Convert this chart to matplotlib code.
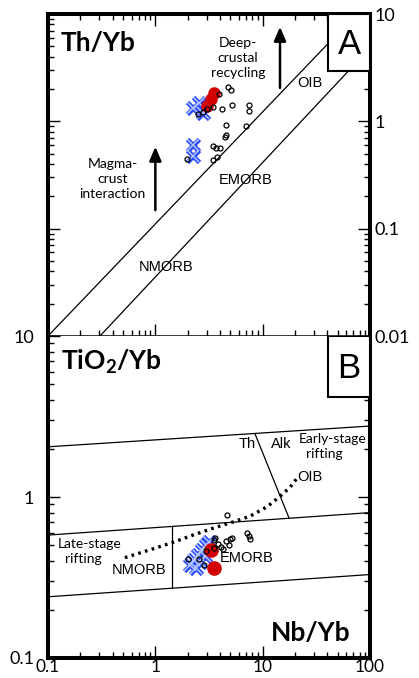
import matplotlib.pyplot as plt
import matplotlib.ticker as mticker
from matplotlib.patches import Rectangle

plt.rcParams['font.family'] = ['Lato', 'DejaVu Sans']
plt.rcParams['mathtext.fontset'] = 'custom'
plt.rcParams['mathtext.rm'] = 'Lato'
plt.rcParams['mathtext.bf'] = 'Lato:bold'

# ---- panel A: Th/Yb vs Nb/Yb ----
a_open_x = [2.50, 2.78, 3.03, 3.45, 3.92, 4.18, 4.75, 5.07, 5.18, 7.46, 7.46,
            4.55, 7.0, 4.55, 4.46, 3.45, 3.67, 4.0, 3.45, 3.76, 1.97]
a_open_y = [1.18, 1.23, 1.31, 1.37, 1.78, 1.31, 2.07, 1.94, 1.43, 1.43, 1.26,
            0.93, 0.91, 0.75, 0.72, 0.59, 0.57, 0.57, 0.44, 0.47, 0.45]
a_red_x = [3.03, 3.3, 3.52]
a_red_y = [1.40, 1.60, 1.82]
a_blue_x = [2.24, 2.55, 2.78, 2.24, 2.24]
a_blue_y = [1.32, 1.47, 1.20, 0.60, 0.48]

# mantle array boundaries
oib_line_x = [0.1, 45.0]
oib_line_y = [0.01, 5.9]
morb_line_x = [0.305, 62.0]
morb_line_y = [0.01, 2.9]

# ---- panel B: TiO2/Yb vs Nb/Yb ----
b_open_x = [4.65, 3.6, 3.52, 3.84, 4.09, 4.27, 4.55, 4.96, 5.18, 4.85,
            7.14, 7.46, 7.62, 2.97, 3.52, 2.55, 2.01, 2.84]
b_open_y = [0.77, 0.556, 0.54, 0.51, 0.49, 0.475, 0.53, 0.55, 0.556, 0.50,
            0.60, 0.57, 0.55, 0.46, 0.48, 0.41, 0.41, 0.38]
b_red_x = [3.3, 3.52]
b_red_y = [0.47, 0.363]
b_blue_x = [2.1, 2.29, 2.5, 2.72, 2.97, 2.39, 2.61, 2.9, 3.16]
b_blue_y = [0.378, 0.406, 0.436, 0.469, 0.503, 0.362, 0.395, 0.43, 0.525]

# band limits (left end at Nb/Yb=0.1, right end at 100)
band_x = [0.1, 100]
band_top_y = [2.05, 2.76]
band_mid_y = [0.58, 0.80]
band_low_y = [0.24, 0.33]
morb_div_x = [1.43, 1.43]
morb_div_y = [0.272, 0.656]
th_alk_x = [8.5, 17.6]
th_alk_y = [2.46, 0.74]

# MORB-OIB trend
trend_x = [0.52, 0.89, 1.43, 2.24, 3.45, 5.3, 7.62, 11.0, 14.5, 18.0, 20.9]
trend_y = [0.42, 0.47, 0.52, 0.58, 0.64, 0.70, 0.76, 0.87, 1.01, 1.15, 1.31]

x_ticks = [0.1, 1, 10, 100]

RED = '#d40000'
BLUE_EDGE = '#2b4bff'
BLUE_FACE = '#b3c3ff'
LABEL_FONT = 'Liberation Sans'


def style_axes(ax):
    ax.set_xscale('log')
    ax.set_yscale('log')
    ax.set_xlim(0.1, 100)
    fmt = mticker.FuncFormatter(lambda v, _: f"{v:g}")
    ax.xaxis.set_major_formatter(fmt)
    ax.yaxis.set_major_formatter(fmt)
    ax.xaxis.set_minor_formatter(mticker.NullFormatter())
    ax.yaxis.set_minor_formatter(mticker.NullFormatter())
    ax.tick_params(which='both', direction='in', width=1.0, labelsize=13)
    ax.tick_params(which='major', length=8.5)
    ax.tick_params(which='minor', length=4.3)
    for s in ax.spines.values():
        s.set_linewidth(2.9)


def plot_points(ax, bx, by, rx, ry, ox, oy, red_size):
    # outlined crosses: dark wide stroke with a pale core
    ax.plot(bx, by, 'x', ms=9, mec=BLUE_EDGE, mew=3.4, ls='none', zorder=3)
    ax.plot(bx, by, 'x', ms=8, mec=BLUE_FACE, mew=1.1, ls='none', zorder=3.1)
    ax.plot(rx, ry, 'o', ms=red_size, color=RED, ls='none', zorder=3.2)
    ax.plot(ox, oy, 'o', ms=3.6, mfc='none', mec='black', mew=0.9,
            ls='none', zorder=3.4)


def corner_box(ax, letter, y0):
    ax.add_patch(Rectangle((0.87, y0), 0.13, 1 - y0, transform=ax.transAxes,
                           facecolor='white', edgecolor='black', lw=1.5,
                           zorder=3.6))
    ax.text(0.935, (1 + y0) / 2 - 0.005, letter, transform=ax.transAxes,
            ha='center', va='center', fontsize=25, family=LABEL_FONT,
            zorder=3.7)


def arrow(ax, x, y0, y1):
    ax.annotate('', xy=(x, y1), xytext=(x, y0),
                arrowprops=dict(arrowstyle='-|>,head_length=0.7,head_width=0.3',
                                color='black', lw=1.8, mutation_scale=12,
                                shrinkA=0, shrinkB=0))


fig = plt.figure(figsize=(4.19, 6.78), dpi=100)
ax_a = fig.add_axes([0.1146, 0.5044, 0.7685, 0.4749])
ax_b = fig.add_axes([0.1146, 0.0295, 0.7685, 0.4749])

# panel A
style_axes(ax_a)
ax_a.set_ylim(0.01, 10)
ax_a.tick_params(which='both', top=True, right=True, bottom=True, left=True,
                 labelleft=False, labelbottom=False, labelright=True, pad=3)
ax_a.spines['bottom'].set_linewidth(1.1)
ax_a.plot(oib_line_x, oib_line_y, color='black', lw=0.9, zorder=1.5)
ax_a.plot(morb_line_x, morb_line_y, color='black', lw=0.9, zorder=1.5)
plot_points(ax_a, a_blue_x, a_blue_y, a_red_x, a_red_y, a_open_x, a_open_y, 8.0)
corner_box(ax_a, 'A', 0.823)
arrow(ax_a, 14.5, 2.05, 7.6)
arrow(ax_a, 1.0, 0.149, 0.58)

ax_a.text(0.04, 0.91, 'Th/Yb', transform=ax_a.transAxes, fontsize=19,
          fontweight='bold', ha='left', va='center')
ax_a.text(5.9, 3.9, 'Deep-\ncrustal\nrecycling', fontsize=10, ha='center',
          va='center', linespacing=1.3)
ax_a.text(0.40, 0.29, 'Magma-\ncrust\ninteraction', fontsize=10, ha='center',
          va='center', linespacing=1.3)
ax_a.text(27.6, 2.27, 'OIB', fontsize=10.5, family=LABEL_FONT,
          ha='center', va='center')
ax_a.text(7.0, 0.284, 'EMORB', fontsize=10.5, family=LABEL_FONT,
          ha='center', va='center')
ax_a.text(1.26, 0.044, 'NMORB', fontsize=10.5, family=LABEL_FONT,
          ha='center', va='center')

# panel B
style_axes(ax_b)
ax_b.set_ylim(0.1, 10)
ax_b.set_xticks(x_ticks)
ax_b.tick_params(which='both', top=False, right=True, bottom=True, left=True,
                 labelleft=True, labelbottom=True, labelright=False)
ax_b.tick_params(axis='y', pad=10)
ax_b.tick_params(axis='x', pad=1, labelsize=12.5)
ax_b.spines['top'].set_visible(False)
for yy in (band_top_y, band_mid_y, band_low_y):
    ax_b.plot(band_x, yy, color='black', lw=0.9, zorder=1.5)
ax_b.plot(morb_div_x, morb_div_y, color='black', lw=0.9, zorder=1.5)
ax_b.plot(th_alk_x, th_alk_y, color='black', lw=0.9, zorder=1.5)
ax_b.plot(trend_x, trend_y, color='black', lw=2.4, ls=(0, (0.8, 1.3)),
          zorder=1.6)
plot_points(ax_b, b_blue_x, b_blue_y, b_red_x, b_red_y, b_open_x, b_open_y, 9.5)
corner_box(ax_b, 'B', 0.81)

ax_b.text(0.04, 0.919, r'TiO$_\mathbf{2}$/Yb', transform=ax_b.transAxes,
          fontsize=19, fontweight='bold', ha='left', va='center')
ax_b.text(0.817, 0.078, 'Nb/Yb', transform=ax_b.transAxes, fontsize=19,
          fontweight='bold', ha='center', va='center')
ax_b.text(7.14, 2.13, 'Th', fontsize=10.5, family=LABEL_FONT,
          ha='center', va='center')
ax_b.text(14.8, 2.13, 'Alk', fontsize=10.5, family=LABEL_FONT,
          ha='center', va='center')
ax_b.text(21.8, 2.06, 'Early-stage\n  rifting', fontsize=10, ha='left',
          va='center', linespacing=1.3)
ax_b.text(27.6, 1.33, 'OIB', fontsize=10.5, family=LABEL_FONT,
          ha='center', va='center')
ax_b.text(0.124, 0.46, 'Late-stage\n  rifting', fontsize=10, ha='left',
          va='center', linespacing=1.3)
ax_b.text(0.70, 0.35, 'NMORB', fontsize=10.5, family=LABEL_FONT,
          ha='center', va='center')
ax_b.text(7.14, 0.42, 'EMORB', fontsize=10.5, family=LABEL_FONT,
          ha='center', va='center')

fig.savefig('out.png', dpi=100)
